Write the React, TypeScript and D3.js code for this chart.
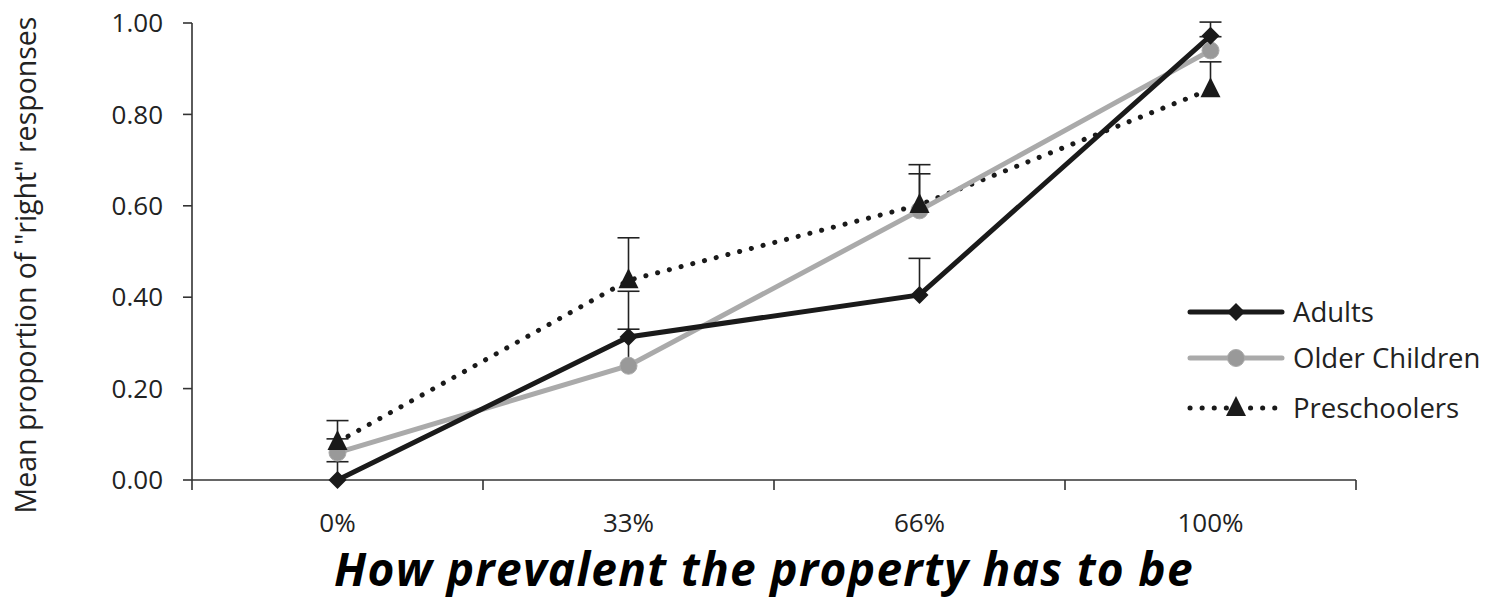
import React from "react";
import * as d3 from "d3";

const categories = ["0%", "33%", "66%", "100%"];
const yTicks = [0, 0.2, 0.4, 0.6, 0.8, 1.0];
const adults = [0.0, 0.313, 0.405, 0.972];
const adultsErr = [0.04, 0.1, 0.08, 0.03];
const older = [0.06, 0.25, 0.59, 0.94];
const olderErr = [0.03, 0.08, 0.08, 0.03];
const preschool = [0.083, 0.437, 0.602, 0.855];
const preschoolErr = [0.047, 0.093, 0.088, 0.06];
const seriesNames = ["Adults", "Older Children", "Preschoolers"];

const W = 1495, H = 598;
const left = 192, right = 1356, top = 23, bottom = 480;
const FONT = "'Open Sans', Lato, sans-serif";

export default function App() {
  const x = d3.scaleBand<string>().domain(categories).range([left, right]).padding(0);
  const y = d3.scaleLinear().domain([0, 1]).range([bottom, top]);
  const cx = (c: string) => (x(c) as number) + x.bandwidth() / 2;
  const line = d3.line<number>().x((_, i) => cx(categories[i])).y((d) => y(d));

  const diamond = (px: number, py: number, s = 9) =>
    `M${px},${py - s}L${px + s},${py}L${px},${py + s}L${px - s},${py}Z`;
  const tri = (px: number, py: number, s = 10) =>
    `M${px},${py - s - 2}L${px + s},${py + s - 2}L${px - s},${py + s - 2}Z`;

  const errBar = (vals: number[], errs: number[], key: string) =>
    vals.map((v, i) => {
      const px = cx(categories[i]);
      return (
        <g key={key + i} stroke="#222" strokeWidth={1.6}>
          <line x1={px} x2={px} y1={y(v)} y2={y(v + errs[i])} />
          <line x1={px - 11} x2={px + 11} y1={y(v + errs[i])} y2={y(v + errs[i])} />
        </g>
      );
    });

  const bandTicks = [...categories.map((c) => x(c) as number), right];
  const legendY = [312, 358, 408];

  return (
    <svg width={W} height={H} style={{ display: "block", position: "absolute", left: 0, top: 0 }}>
      <rect width={W} height={H} fill="#fff" />
      {/* axes */}
      <line x1={left} x2={left} y1={top} y2={bottom} stroke="#333" strokeWidth={1.6} />
      <line x1={left} x2={right} y1={bottom} y2={bottom} stroke="#333" strokeWidth={1.6} />
      {yTicks.map((t) => (
        <g key={"yt" + t}>
          <line x1={left - 9} x2={left} y1={y(t)} y2={y(t)} stroke="#333" strokeWidth={1.6} />
          <text x={163} y={y(t)} dy="0.35em" textAnchor="end" fontFamily={FONT} fontSize={26} fill="#222">
            {d3.format(".2f")(t)}
          </text>
        </g>
      ))}
      {bandTicks.map((t, i) => (
        <line key={"xt" + i} x1={t} x2={t} y1={bottom} y2={bottom + 10} stroke="#333" strokeWidth={1.6} />
      ))}
      {categories.map((c) => (
        <text key={"xl" + c} x={cx(c)} y={532} textAnchor="middle" fontFamily={FONT} fontSize={26} fill="#222">
          {c}
        </text>
      ))}
      <text
        transform={`translate(36,265) rotate(-90)`}
        textAnchor="middle"
        fontFamily={FONT}
        fontSize={28.5}
        fill="#222"
      >
        Mean proportion of "right" responses
      </text>
      <text x={764} y={586} textAnchor="middle" fontFamily={FONT} fontSize={46} fontWeight="bold" fontStyle="italic" letterSpacing={1.3} fill="#000">
        How prevalent the property has to be
      </text>

      {/* error bars */}
      {errBar(older, olderErr, "eo")}
      {errBar(adults, adultsErr, "ea")}
      {errBar(preschool, preschoolErr, "ep")}

      {/* lines */}
      <path d={line(preschool) as string} fill="none" stroke="#1a1a1a" strokeWidth={5} strokeDasharray="0.1 12" strokeLinecap="round" />
      <path d={line(older) as string} fill="none" stroke="#aaaaaa" strokeWidth={5} />
      <path d={line(adults) as string} fill="none" stroke="#1a1a1a" strokeWidth={5} />

      {/* markers */}
      {older.map((v, i) => (
        <circle key={"mo" + i} cx={cx(categories[i])} cy={y(v)} r={8.5} fill="#999" stroke="#aaa" strokeWidth={1} />
      ))}
      {preschool.map((v, i) => (
        <path key={"mp" + i} d={tri(cx(categories[i]), y(v))} fill="#1a1a1a" />
      ))}
      {adults.map((v, i) => (
        <path key={"ma" + i} d={diamond(cx(categories[i]), y(v))} fill="#1a1a1a" />
      ))}

      {/* legend */}
      {seriesNames.map((n, i) => {
        const ly = legendY[i];
        const mx = 1236;
        return (
          <g key={"lg" + n}>
            {i === 0 && <line x1={1190} x2={1282} y1={ly} y2={ly} stroke="#1a1a1a" strokeWidth={5} strokeLinecap="round" />}
            {i === 1 && <line x1={1190} x2={1282} y1={ly} y2={ly} stroke="#aaaaaa" strokeWidth={5} strokeLinecap="round" />}
            {i === 2 && <line x1={1190} x2={1282} y1={ly} y2={ly} stroke="#1a1a1a" strokeWidth={5} strokeDasharray="0.1 12" strokeLinecap="round" />}
            {i === 0 && <path d={diamond(mx, ly)} fill="#1a1a1a" />}
            {i === 1 && <circle cx={mx} cy={ly} r={8.5} fill="#999" stroke="#aaa" />}
            {i === 2 && <path d={tri(mx, ly)} fill="#1a1a1a" />}
            <text x={1293} y={ly} dy="0.35em" fontFamily={FONT} fontSize={27.5} fill="#222">
              {n}
            </text>
          </g>
        );
      })}
    </svg>
  );
}
